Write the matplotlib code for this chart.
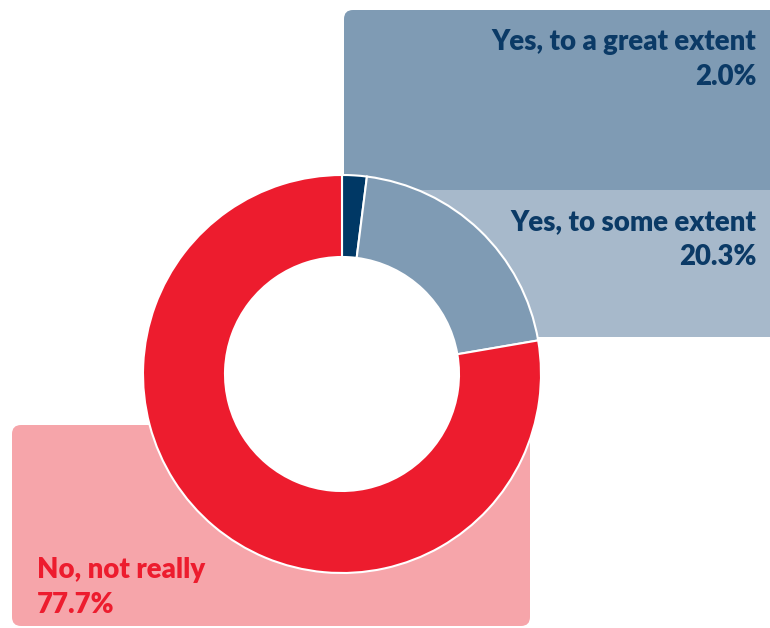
import matplotlib
matplotlib.use("Agg")
import matplotlib.pyplot as plt
from matplotlib.patches import FancyBboxPatch, Circle

labels = ["Yes, to a great extent", "Yes, to some extent", "No, not really"]
shares = [2.0, 20.3, 77.7]
sliceColors = ["#003865", "#7f9bb4", "#ed1c2e"]
boxColors = ["#7f9bb4", "#a7b9cb", "#f6a5aa"]
textColors = ["#0b3a66", "#0b3a66", "#ed1c2e"]

W, H = 770, 628


def py(y):
    # pixel row from the top -> data y
    return H - y


def drawBox(ax, x0, y0, x1, y1, color):
    box = FancyBboxPatch((x0, py(y1)), x1 - x0, y1 - y0,
                         boxstyle="round,pad=0,rounding_size=9",
                         facecolor=color, edgecolor="none", zorder=1)
    ax.add_patch(box)


fig = plt.figure(figsize=(W / 100, H / 100), dpi=100)
ax = fig.add_axes([0, 0, 1, 1])

drawBox(ax, 344, 10, 790, 190, boxColors[0])
drawBox(ax, 344, 190, 790, 337, boxColors[1])
drawBox(ax, 12, 425, 530, 626, boxColors[2])

center = (342, py(374))
wedges, _ = ax.pie(shares, colors=sliceColors, startangle=90, counterclock=False,
                   center=center, radius=199,
                   wedgeprops=dict(width=82, edgecolor="white", linewidth=1.5))
for w in wedges:
    w.set_zorder(2)
ax.add_patch(Circle(center, 117, facecolor="white", edgecolor="none", zorder=3))

font = dict(family=["Lato", "DejaVu Sans"], fontweight="heavy", fontsize=19.8)
ax.text(756, py(50), labels[0], color=textColors[0], ha="right", va="baseline", **font)
ax.text(756, py(85), f"{shares[0]:.1f}%", color=textColors[0], ha="right", va="baseline", **font)
ax.text(756, py(230), labels[1], color=textColors[1], ha="right", va="baseline", **font)
ax.text(756, py(265), f"{shares[1]:.1f}%", color=textColors[1], ha="right", va="baseline", **font)
ax.text(37, py(578), labels[2], color=textColors[2], ha="left", va="baseline", **font)
ax.text(37, py(613), f"{shares[2]:.1f}%", color=textColors[2], ha="left", va="baseline", **font)

ax.set_xlim(0, W)
ax.set_ylim(0, H)
ax.set_aspect("auto")
ax.axis("off")

fig.savefig("out.png", dpi=100)
